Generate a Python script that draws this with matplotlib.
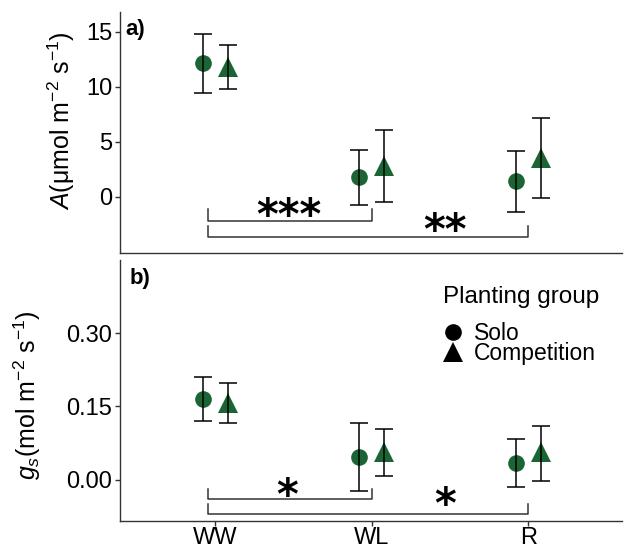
import numpy as np
import matplotlib
matplotlib.use('Agg')
import matplotlib.pyplot as plt
import matplotlib.transforms as mtransforms
from matplotlib.lines import Line2D

plt.rcParams['font.family'] = ['Liberation Sans', 'DejaVu Sans']
plt.rcParams['mathtext.fontset'] = 'custom'
plt.rcParams['mathtext.rm'] = 'Liberation Sans'
plt.rcParams['mathtext.it'] = 'Liberation Sans:italic'

# data
groups = ['WW', 'WL', 'R']
planting = ['Solo', 'Competition']

# net photosynthesis A (umol m-2 s-1)
a_solo = [12.15, 1.8, 1.45]
a_solo_lo = [9.45, -0.7, -1.35]
a_solo_hi = [14.8, 4.25, 4.2]
a_comp = [11.8, 2.85, 3.55]
a_comp_lo = [9.8, -0.5, -0.1]
a_comp_hi = [13.8, 6.1, 7.2]

# stomatal conductance gs (mol m-2 s-1)
gs_solo = [0.165, 0.047, 0.035]
gs_solo_lo = [0.12, -0.022, -0.014]
gs_solo_hi = [0.21, 0.116, 0.084]
gs_comp = [0.157, 0.057, 0.057]
gs_comp_lo = [0.116, 0.008, -0.002]
gs_comp_hi = [0.198, 0.104, 0.11]

# significance: WW vs WL, WW vs R
comparisons = [('WW', 'WL'), ('WW', 'R')]
a_signif = ['***', '**']
gs_signif = ['*', '*']

green = '#1b6535'
dodge = 0.08

fig = plt.figure(figsize=(6.27, 5.5), dpi=100)
ax1 = fig.add_axes([0.1914, 0.54, 0.8006, 0.438])
ax2 = fig.add_axes([0.1914, 0.0527, 0.8006, 0.4743])

x = np.arange(1, len(groups) + 1)


def draw_panel(ax, solo, solo_lo, solo_hi, comp, comp_lo, comp_hi):
    for off, y, lo, hi, mk, ms in [(-dodge, solo, solo_lo, solo_hi, 'o', 12),
                                   (dodge, comp, comp_lo, comp_hi, '^', 14)]:
        y = np.array(y)
        ax.plot(x + off, y, linestyle='none', marker=mk, ms=ms, color=green,
                markeredgewidth=0, zorder=2)
        ax.errorbar(x + off, y, yerr=[y - np.array(lo), np.array(hi) - y],
                    fmt='none', ecolor='black', elinewidth=1.1, capsize=6.5,
                    capthick=1.1, zorder=3)
    for s in ['top', 'right']:
        ax.spines[s].set_visible(False)
    for s in ['left', 'bottom']:
        ax.spines[s].set_linewidth(1.0)
        ax.spines[s].set_color('#333333')
    ax.tick_params(axis='y', labelsize=17, length=3.5, width=1.0,
                   color='#333333', pad=2)
    ax.set_xlim(0.39, 3.6)


def draw_brackets(ax, labels, lines, ticks, label_x, star_off):
    for i, ((g1, g2), lab) in enumerate(zip(comparisons, labels)):
        x1 = groups.index(g1) + 1 - 0.05
        x2 = groups.index(g2) + 1
        ax.plot([x1, x1, x2, x2], [ticks[i], lines[i], lines[i], ticks[i]],
                color='#333333', lw=1.1, zorder=1)
        tr = mtransforms.offset_copy(ax.transData, fig=fig, y=star_off[i],
                                     units='points')
        ax.text(label_x[i], lines[i], lab, transform=tr, ha='center',
                va='baseline', fontsize=30, fontweight='bold',
                family='DejaVu Sans')


# panel a
draw_panel(ax1, a_solo, a_solo_lo, a_solo_hi, a_comp, a_comp_lo, a_comp_hi)
ax1.set_ylim(-5.1, 16.8)
ax1.set_yticks([0, 5, 10, 15])
ax1.set_xticks([])
draw_brackets(ax1, a_signif, [-2.18, -3.64], [-1.1, -2.64], [1.47, 2.47],
              [-6, -5])
ax1.set_ylabel(r'$\it{A}$(μmol m$^{-2}$ s$^{-1}$)', fontsize=18)
ax1.yaxis.set_label_coords(-0.086, 0.548)
ax1.text(0.01, 0.97, 'a)', transform=ax1.transAxes, fontsize=16,
         fontweight='bold', ha='left', va='top')

# panel b
draw_panel(ax2, gs_solo, gs_solo_lo, gs_solo_hi, gs_comp, gs_comp_lo, gs_comp_hi)
ax2.set_ylim(-0.084, 0.449)
ax2.set_yticks([0.0, 0.15, 0.30])
ax2.set_yticklabels(['0.00', '0.15', '0.30'])
ax2.set_xticks(x)
ax2.set_xticklabels(groups)
ax2.tick_params(axis='x', labelsize=17, length=3.5, width=1.0,
                color='#333333', pad=1)
draw_brackets(ax2, gs_signif, [-0.039, -0.069], [-0.018, -0.049],
              [1.46, 2.47], [-7, -3])
ax2.set_ylabel(r'$\it{g}_{s}$(mol m$^{-2}$ s$^{-1}$)', fontsize=18)
ax2.yaxis.set_label_coords(-0.153, 0.483)
ax2.text(0.02, 0.97, 'b)', transform=ax2.transAxes, fontsize=16,
         fontweight='bold', ha='left', va='top')

# legend (title as its own text so the rows can sit tight)
ax2.text(0.643, 0.858, 'Planting group', transform=ax2.transAxes,
         fontsize=17.5, ha='left', va='center')
handles = [Line2D([], [], linestyle='none', marker='o', ms=12, color='black',
                  markeredgewidth=0),
           Line2D([], [], linestyle='none', marker='^', ms=14, color='black',
                  markeredgewidth=0)]
leg = ax2.legend(handles, planting, loc='upper left',
                 bbox_to_anchor=(0.645, 0.7625), frameon=False, fontsize=16.5,
                 labelspacing=-0.14, handlelength=0.8, handletextpad=0.5,
                 borderpad=0, borderaxespad=0)

fig.savefig('out.png', dpi=100)
